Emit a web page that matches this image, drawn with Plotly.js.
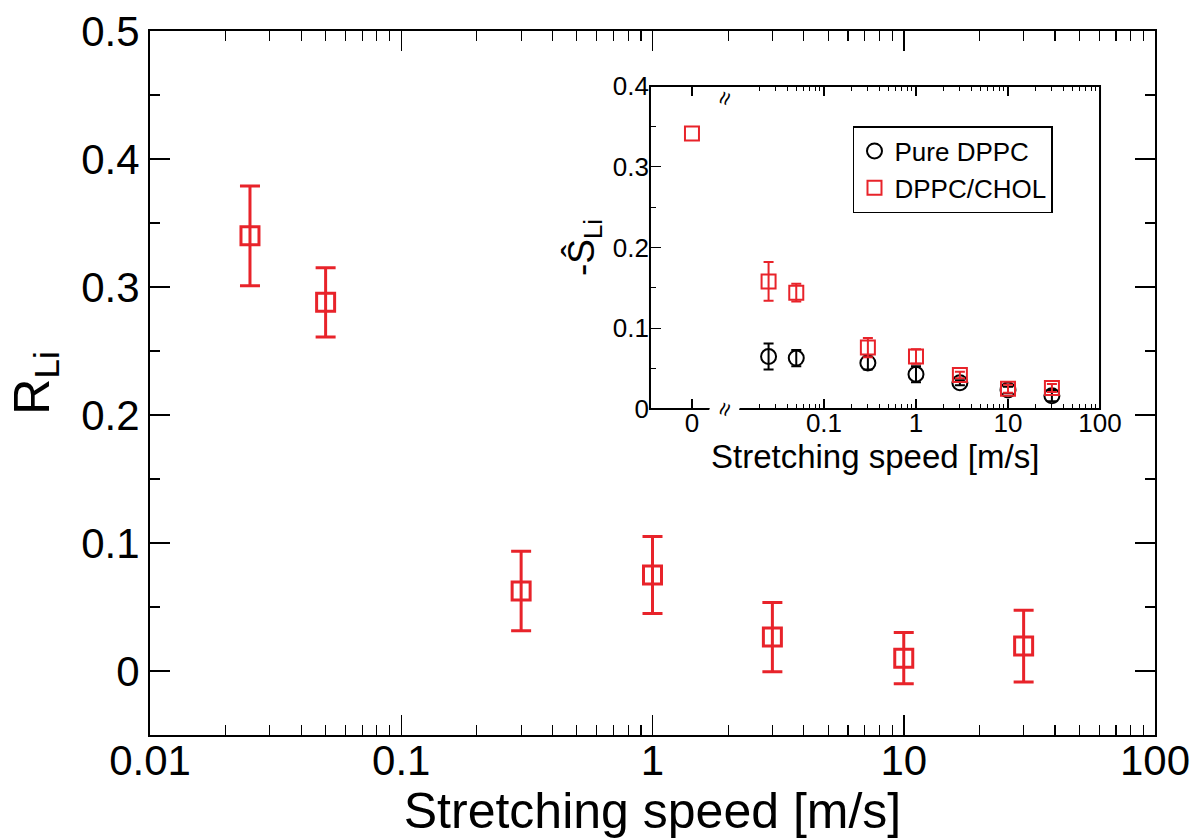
<!DOCTYPE html>
<html>
<head>
<meta charset="utf-8">
<script src="https://cdn.plot.ly/plotly-3.0.1.min.js"></script>
<style>html,body{margin:0;padding:0;background:#fff}#chart{width:1197px;height:839px}</style>
</head>
<body>
<div id="chart"></div>
<script>
// ---- main plot data ----
const speeds = [0.025, 0.05, 0.3, 1, 3, 10, 30];
const rLi = [0.340, 0.288, 0.0625, 0.075, 0.0265, 0.010, 0.0195];
const rLiErr = [0.039, 0.027, 0.031, 0.030, 0.027, 0.020, 0.028];

// ---- inset data ----
const zeroSpeed = [0];
const cholAtZero = [0.341];
const dppcS = [0.065, 0.063, 0.057, 0.043, 0.0325, 0.0235, 0.0165];
const dppcErr = [0.016, 0.010, 0.008, 0.010, 0.003, 0.004, 0.007];
const cholS = [0.158, 0.144, 0.076, 0.065, 0.042, 0.025, 0.026];
const cholErr = [0.024, 0.011, 0.012, 0.009, 0.004, 0.005, 0.005];

const mainXTicks = [0.01, 0.1, 1, 10, 100];
const mainXTickText = ['0.01', '0.1', '1', '10', '100'];
const insetXTicks = [0.1, 1, 10, 100];
const insetXTickText = ['0.1', '1', '10', '100'];

const RED = '#e8232a';
const FONT = 'Liberation Sans, Arial, sans-serif';

function minorLog(lo, hi) {
  const v = [];
  for (let e = lo; e < hi; e++) for (let d = 2; d <= 9; d++) v.push(d * Math.pow(10, e));
  return v;
}

const traces = [
  {
    x: speeds, y: rLi, type: 'scatter', mode: 'markers', showlegend: false,
    xaxis: 'x', yaxis: 'y',
    marker: {symbol: 'square-open', size: 18, color: RED, line: {width: 3, color: RED}},
    error_y: {type: 'data', array: rLiErr, visible: true, color: RED, thickness: 3, width: 10}
  },
  {
    x: speeds, y: dppcS, type: 'scatter', mode: 'markers', name: 'Pure DPPC',
    xaxis: 'x2', yaxis: 'y2',
    marker: {symbol: 'circle-open', size: 15, color: '#000', line: {width: 2, color: '#000'}},
    error_y: {type: 'data', array: dppcErr, visible: true, color: '#000', thickness: 2, width: 5}
  },
  {
    x: speeds, y: cholS, type: 'scatter', mode: 'markers', name: 'DPPC/CHOL',
    xaxis: 'x2', yaxis: 'y2',
    marker: {symbol: 'square-open', size: 14, color: RED, line: {width: 2, color: RED}},
    error_y: {type: 'data', array: cholErr, visible: true, color: RED, thickness: 2, width: 5}
  },
  {
    x: zeroSpeed, y: cholAtZero, type: 'scatter', mode: 'markers', showlegend: false,
    xaxis: 'x3', yaxis: 'y2',
    marker: {symbol: 'square-open', size: 14, color: RED, line: {width: 2, color: RED}}
  }
];

// inset geometry (paper coords)
const ix0 = 0.4975, ixBreak = 0.5721, ix1 = 0.9453, iy0 = 0.4631, iy1 = 0.9219;

const layout = {
  width: 1197, height: 839,
  margin: {l: 150, r: 42, t: 31, b: 104},
  paper_bgcolor: '#fff', plot_bgcolor: '#fff',
  font: {family: FONT, color: '#000'},
  showlegend: true,
  legend: {
    x: 0.6995, y: 0.865, xanchor: 'left', yanchor: 'top',
    bordercolor: '#000', borderwidth: 1.5, bgcolor: '#fff',
    font: {size: 26, family: FONT}, tracegroupgap: 0
  },
  xaxis: {
    type: 'log', range: [-2, 2], domain: [0, 1],
    tickmode: 'array', tickvals: mainXTicks, ticktext: mainXTickText,
    ticks: 'inside', ticklen: 20, tickwidth: 1.5, tickcolor: '#000',
    minor: {tickmode: 'array', tickvals: minorLog(-2, 2), ticks: 'inside', ticklen: 10, tickwidth: 1.2, tickcolor: '#000', showgrid: false},
    showline: true, linewidth: 2, linecolor: '#000', mirror: 'allticks',
    showgrid: false, zeroline: false,
    tickfont: {size: 42, family: FONT},
    ticklabelstandoff: -12,
    title: {text: 'Stretching speed [m/s]', font: {size: 50, family: FONT}, standoff: 4}
  },
  yaxis: {
    range: [-0.05, 0.5], domain: [0, 1],
    tickmode: 'array', tickvals: [0, 0.1, 0.2, 0.3, 0.4, 0.5], ticktext: ['0', '0.1', '0.2', '0.3', '0.4', '0.5'],
    ticks: 'inside', ticklen: 20, tickwidth: 1.5, tickcolor: '#000',
    minor: {dtick: 0.05, tick0: 0, ticks: 'inside', ticklen: 10, tickwidth: 1.2, tickcolor: '#000', showgrid: false},
    showline: true, linewidth: 2, linecolor: '#000', mirror: 'allticks',
    showgrid: false, zeroline: false,
    tickfont: {size: 42, family: FONT},
    title: {text: 'R<sub>Li</sub>', font: {size: 50, family: FONT}, standoff: 16}
  },
  // inset log axis
  xaxis2: {
    type: 'log', range: [-2.076, 2], domain: [ixBreak, ix1], anchor: 'y2',
    tickmode: 'array', tickvals: insetXTicks, ticktext: insetXTickText,
    ticks: 'inside', ticklen: 10, tickwidth: 1.3, tickcolor: '#000',
    minor: {tickmode: 'array', tickvals: minorLog(-2, 2).filter(v => v > 0.0084), ticks: 'inside', ticklen: 5, tickwidth: 1, tickcolor: '#000', showgrid: false},
    showline: false, mirror: 'allticks',
    showgrid: false, zeroline: false,
    tickfont: {size: 26, family: FONT},
    ticklabelstandoff: -4
  },
  // inset zero segment
  xaxis3: {
    range: [-1, 0.786], domain: [ix0, ixBreak], anchor: 'y2',
    tickmode: 'array', tickvals: zeroSpeed, ticktext: ['0'],
    ticks: 'inside', ticklen: 10, tickwidth: 1.3, tickcolor: '#000',
    showline: false, mirror: 'allticks',
    showgrid: false, zeroline: false,
    tickfont: {size: 26, family: FONT},
    ticklabelstandoff: -4
  },
  yaxis2: {
    range: [0, 0.4], domain: [iy0, iy1], anchor: 'x3',
    tickmode: 'array', tickvals: [0, 0.1, 0.2, 0.3, 0.4], ticktext: ['0', '0.1', '0.2', '0.3', '0.4'],
    ticks: 'inside', ticklen: 11, tickwidth: 1.3, tickcolor: '#000',
    minor: {dtick: 0.05, tick0: 0, ticks: 'inside', ticklen: 6, tickwidth: 1, tickcolor: '#000', showgrid: false},
    showline: false, showgrid: false, zeroline: false,
    tickfont: {size: 26, family: FONT},
    title: {text: '-Ŝ<sub>Li</sub>', font: {size: 37, family: FONT}, standoff: 6}
  },
  yaxis3: {
    range: [0, 0.4], domain: [iy0, iy1], anchor: 'x2', side: 'right', overlaying: 'y2',
    tickmode: 'array', tickvals: [0, 0.1, 0.2, 0.3, 0.4],
    showticklabels: false,
    ticks: 'inside', ticklen: 11, tickwidth: 1.3, tickcolor: '#000',
    minor: {dtick: 0.05, tick0: 0, ticks: 'inside', ticklen: 6, tickwidth: 1, tickcolor: '#000', showgrid: false},
    showline: false, showgrid: false, zeroline: false
  },
  shapes: [
    {type: 'rect', xref: 'paper', yref: 'paper', x0: ix0, x1: ix1, y0: iy0, y1: iy1,
     line: {color: '#000', width: 2}, fillcolor: 'rgba(0,0,0,0)', layer: 'above'}
  ],
  annotations: [
    {text: 'Stretching speed [m/s]', xref: 'paper', yref: 'paper', x: (ix0 + ix1) / 2, y: 0.396,
     showarrow: false, font: {size: 33, family: FONT}, xanchor: 'center', yanchor: 'middle'},
    {text: '≈', xref: 'paper', yref: 'paper', x: ixBreak, y: iy1, showarrow: false,
     font: {size: 24, family: FONT}, textangle: -70, bgcolor: '#fff', borderpad: 0},
    {text: '≈', xref: 'paper', yref: 'paper', x: ixBreak, y: iy0, showarrow: false,
     font: {size: 24, family: FONT}, textangle: -70, bgcolor: '#fff', borderpad: 0}
  ]
};

Plotly.newPlot('chart', traces, layout, {displayModeBar: false, staticPlot: true});
</script>
</body>
</html>
